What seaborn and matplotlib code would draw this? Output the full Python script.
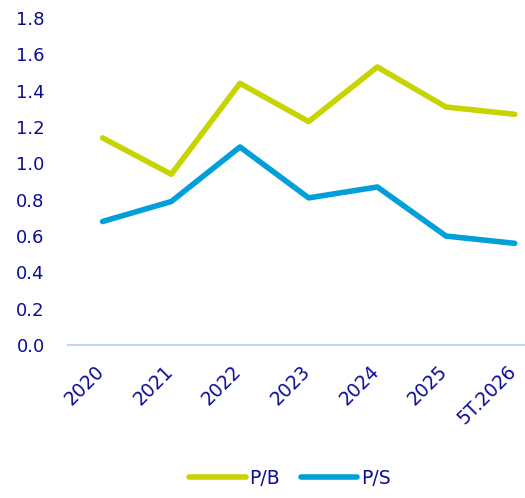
import matplotlib
matplotlib.use("Agg")
import matplotlib.pyplot as plt
import matplotlib.transforms as mtransforms
import seaborn as sns
import pandas as pd
from matplotlib.lines import Line2D

categories = ["2020", "2021", "2022", "2023", "2024", "2025", "5T.2026"]
pb = [1.14, 0.94, 1.44, 1.23, 1.53, 1.31, 1.27]
ps = [0.68, 0.79, 1.09, 0.81, 0.87, 0.60, 0.56]

sns.set_style("white")
plt.rcParams['font.family'] = ['DejaVu Sans']

df = pd.DataFrame({
    "x": list(range(len(categories))) * 2,
    "value": pb + ps,
    "series": ["P/B"] * len(pb) + ["P/S"] * len(ps),
})

text_c = "#0B0E94"
fig = plt.figure(figsize=(5.25, 4.98), dpi=100)
ax = fig.add_axes([0.13, 0.307, 0.87, 0.657])
sns.lineplot(data=df, x="x", y="value", hue="series",
             palette={"P/B": "#C8D400", "P/S": "#009FDA"},
             linewidth=4, ax=ax, legend=False, solid_capstyle="round")

ax.set_xlim(-0.5, 6.15)
ax.set_ylim(0, 1.8)
ax.set_yticks([i * 0.2 for i in range(10)])
ax.set_yticklabels([f"{i*0.2:.1f}" for i in range(10)], color=text_c, fontsize=13)
ax.set_xticks(range(len(categories)))
ax.set_xticklabels(categories, rotation=45, ha="right", rotation_mode="anchor",
                   color=text_c, fontsize=13.5)
ax.tick_params(axis="x", length=0, pad=12)
ax.tick_params(axis="y", length=0, pad=17)
offset = mtransforms.ScaledTranslation(-8 / 100, 0, fig.dpi_scale_trans)
for lbl in ax.get_xticklabels():
    lbl.set_transform(lbl.get_transform() + offset)
ax.set_xlabel("")
ax.set_ylabel("")
for s in ["top", "right", "left"]:
    ax.spines[s].set_visible(False)
ax.spines["bottom"].set_color("#C5D3F5")
ax.spines["bottom"].set_linewidth(1.5)

handles = [Line2D([], [], color="#C8D400", lw=4, solid_capstyle="round"),
           Line2D([], [], color="#009FDA", lw=4, solid_capstyle="round")]
fig.legend(handles, ["P/B", "P/S"], loc="center", bbox_to_anchor=(0.552, 0.04),
           ncol=2, frameon=False, fontsize=13.5, labelcolor=text_c,
           handlelength=3.0, handletextpad=0.2, columnspacing=1.1)

fig.savefig("out.png", dpi=100)
